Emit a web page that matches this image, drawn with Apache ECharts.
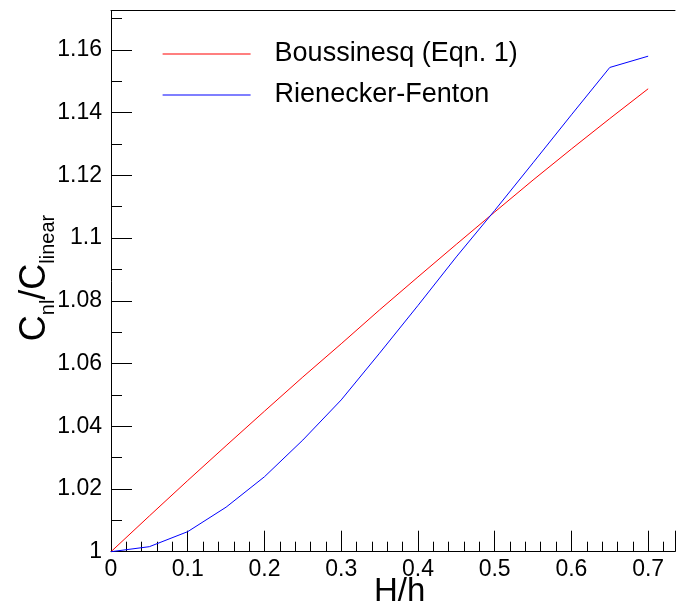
<!DOCTYPE html>
<html>
<head>
<meta charset="utf-8">
<script src="https://cdn.jsdelivr.net/npm/echarts@6/dist/echarts.min.js"></script>
<style>
  html, body { margin: 0; padding: 0; background: #fff; }
  #chart { width: 678px; height: 607px; }
</style>
</head>
<body>
<div id="chart"></div>
<script>
// H/h sample points
const hRatio = [0, 0.05, 0.1, 0.15, 0.2, 0.25, 0.3, 0.35, 0.4, 0.45, 0.5, 0.55, 0.6, 0.65, 0.7];
// C_nl / C_linear
const boussinesq = [1, 1.0114, 1.0227, 1.0338, 1.0448, 1.0557, 1.0663, 1.0771, 1.0876, 1.0980, 1.1083, 1.1185, 1.1284, 1.1381, 1.1476];
const fenton = [1, 1.0016, 1.0064, 1.0142, 1.0239, 1.0356, 1.0484, 1.0633, 1.0785, 1.0940, 1.1088, 1.1240, 1.1393, 1.1544, 1.1580];
const seriesNames = ['Boussinesq (Eqn. 1)', 'Rienecker-Fenton'];
const seriesColors = ['#ff0000', '#0000ff'];

const font = '"Liberation Sans", Arial, sans-serif';
const chart = echarts.init(document.getElementById('chart'));

const pairs = (ys) => hRatio.map((x, i) => [x, ys[i]]);
const onStep = (v, step) => Math.abs(v / step - Math.round(v / step)) < 1e-6;

chart.setOption({
  animation: false,
  backgroundColor: '#fff',
  grid: { left: 111, right: 0, top: 10.7, bottom: 55.3, containLabel: false },
  legend: {
    orient: 'vertical',
    left: 157,
    top: 34,
    itemWidth: 88,
    itemHeight: 14,
    itemGap: 11,
    data: seriesNames.map((name, i) => ({
      name,
      lineStyle: { color: seriesColors[i], width: 1.2 }
    })),
    // hide the marker dot, keep only the line
    itemStyle: { color: 'rgba(0,0,0,0)', borderWidth: 0 },
    textStyle: { fontFamily: font, fontSize: 27, color: '#000', lineHeight: 30, padding: [0, 0, 0, 19] }
  },
  xAxis: [{
    type: 'value',
    min: 0,
    max: 0.735,
    interval: 0.1,
    position: 'bottom',
    axisLine: { show: true, onZero: false, lineStyle: { color: '#000', width: 1 } },
    axisTick: { show: true, inside: true, length: 21, lineStyle: { color: '#000', width: 1 } },
    minorTick: { show: true, splitNumber: 5, length: 10, lineStyle: { color: '#000', width: 1 } },
    splitLine: { show: false },
    axisLabel: {
      fontFamily: font, fontSize: 23, color: '#000', margin: 6,
      formatter: (v) => onStep(v, 0.1) ? String(+v.toFixed(1)) : ''
    }
  }, {
    type: 'value',
    min: 0,
    max: 0.735,
    position: 'top',
    axisLine: { show: true, onZero: false, lineStyle: { color: '#000', width: 1 } },
    axisTick: { show: false },
    axisLabel: { show: false },
    splitLine: { show: false }
  }],
  yAxis: {
    type: 'value',
    min: 1,
    max: 1.1725,
    interval: 0.02,
    axisLine: { show: true, onZero: false, lineStyle: { color: '#000', width: 1 } },
    axisTick: { show: true, inside: true, length: 21, lineStyle: { color: '#000', width: 1 } },
    minorTick: { show: true, splitNumber: 2, length: 11, lineStyle: { color: '#000', width: 1 } },
    splitLine: { show: false },
    axisLabel: {
      fontFamily: font, fontSize: 23, color: '#000', margin: 9,
      formatter: (v) => onStep(v, 0.02) ? String(+v.toFixed(2)) : ''
    }
  },
  graphic: [{
    type: 'text',
    left: 374,
    top: 575,
    style: { text: 'H/h', fontFamily: font, fontSize: 33, fill: '#000' }
  }, {
    type: 'text',
    x: 12,
    y: 278,
    rotation: Math.PI / 2,
    style: {
      text: '{a|C}{b|nl}{a|/C}{b|linear}',
      align: 'center',
      verticalAlign: 'top',
      rich: {
        a: { fontFamily: font, fontSize: 36, fill: '#000', lineHeight: 46 },
        b: { fontFamily: font, fontSize: 20, fill: '#000', lineHeight: 46, verticalAlign: 'bottom' }
      }
    }
  }],
  series: seriesNames.map((name, i) => ({
    name,
    type: 'line',
    data: pairs(i === 0 ? boussinesq : fenton),
    symbol: 'none',
    color: seriesColors[i],
    lineStyle: { color: seriesColors[i], width: 1 },
    itemStyle: { color: seriesColors[i] }
  }))
});
</script>
</body>
</html>
